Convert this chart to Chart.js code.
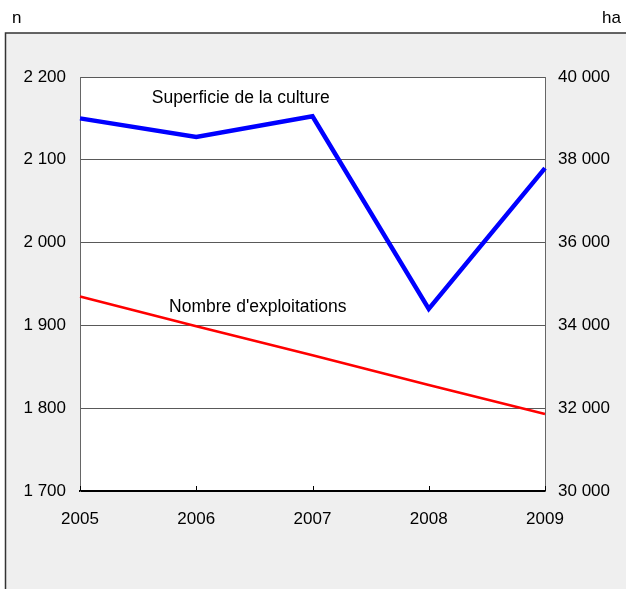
<!DOCTYPE html>
<html>
<head>
<meta charset="utf-8">
<script src="https://cdn.jsdelivr.net/npm/chart.js@4"></script>
<style>
  body { margin: 0; background: #fff; }
  canvas { display: block; }
</style>
</head>
<body>
<canvas id="chart" width="626" height="589"></canvas>
<script>
'use strict';

// data
var years = ['2005', '2006', '2007', '2008', '2009'];
var superficie = [39000, 38550, 39050, 34400, 37800];   // ha, right axis
var exploitations = [1935, 1899, 1864, 1828, 1793];    // n, left axis

var leftTicks = { min: 1700, max: 2200, step: 100 };
var rightTicks = { min: 30000, max: 40000, step: 2000 };

// line labels: [text, x as category index, y in left-axis units]
var lineLabels = [
  ['Superficie de la culture', 0.617, 2175],
  ["Nombre d'exploitations", 0.766, 1922]
];

var FONT = '"Liberation Sans", Arial, sans-serif';

function spaced(v) {
  return String(v).replace(/\B(?=(\d{3})+(?!\d))/g, ' ');
}

var framePlugin = {
  id: 'frame',
  beforeDraw: function (chart) {
    var c = chart.ctx, a = chart.chartArea;
    c.save();
    c.fillStyle = '#fff';
    c.fillRect(0, 0, chart.width, chart.height);
    c.fillStyle = '#efefef';
    c.fillRect(5, 33, chart.width - 5, chart.height - 33);
    c.strokeStyle = '#333';
    c.lineWidth = 1.5;
    c.beginPath();
    c.moveTo(5.5, chart.height);
    c.lineTo(5.5, 33);
    c.lineTo(chart.width, 33);
    c.stroke();
    c.fillStyle = '#fff';
    c.fillRect(a.left, a.top, a.right - a.left, a.bottom - a.top);
    // units
    c.fillStyle = '#000';
    c.font = '17px ' + FONT;
    c.textBaseline = 'middle';
    c.textAlign = 'left';
    c.fillText('n', 12, 18);
    c.textAlign = 'right';
    c.fillText('ha', 621, 18);
    c.restore();
  },
  afterDraw: function (chart) {
    var c = chart.ctx, a = chart.chartArea;
    var xs = chart.scales.x, ys = chart.scales.yLeft;
    c.save();
    // small inward ticks on the bottom axis
    c.strokeStyle = '#000';
    c.lineWidth = 1;
    years.forEach(function (y, i) {
      var px = Math.round(xs.getPixelForValue(i)) + 0.5;
      c.beginPath();
      c.moveTo(px, a.bottom);
      c.lineTo(px, a.bottom - 5);
      c.stroke();
    });
    c.fillStyle = '#000';
    c.font = '17.5px ' + FONT;
    c.textAlign = 'left';
    c.textBaseline = 'middle';
    lineLabels.forEach(function (l) {
      c.fillText(l[0], xs.getPixelForValue(l[1]), ys.getPixelForValue(l[2]));
    });
    c.restore();
  }
};

var ctx = document.getElementById('chart').getContext('2d');
var chart = new Chart(ctx, {
  type: 'line',
  data: {
    labels: years,
    datasets: [{
      label: 'Superficie de la culture',
      data: superficie,
      yAxisID: 'yRight',
      borderColor: '#0000ff',
      borderWidth: 4.5,
      pointRadius: 0,
      tension: 0,
      fill: false
    }, {
      label: "Nombre d'exploitations",
      data: exploitations,
      yAxisID: 'yLeft',
      borderColor: '#ff0000',
      borderWidth: 2.5,
      pointRadius: 0,
      tension: 0,
      fill: false
    }]
  },
  options: {
    responsive: false,
    animation: false,
    layout: { padding: { top: 77, bottom: 58, left: 0, right: 0 } },
    plugins: { legend: { display: false }, tooltip: { enabled: false } },
    scales: {
      x: {
        offset: false,
        grid: { drawOnChartArea: false, drawTicks: false },
        border: { color: '#000', width: 2 },
        ticks: { color: '#000', font: { family: FONT, size: 17 }, padding: 18, maxRotation: 0, autoSkip: false },
        afterFit: function (s) { s.height = 40; }
      },
      yLeft: {
        position: 'left',
        min: leftTicks.min,
        max: leftTicks.max,
        grid: { color: '#595959', lineWidth: 1, drawTicks: false },
        border: { color: '#666', width: 1 },
        ticks: { stepSize: leftTicks.step, color: '#000', font: { family: FONT, size: 17 }, padding: 14, callback: spaced },
        afterFit: function (s) { s.width = 80; }
      },
      yRight: {
        position: 'right',
        min: rightTicks.min,
        max: rightTicks.max,
        grid: { drawOnChartArea: false, drawTicks: false },
        border: { color: '#666', width: 1 },
        ticks: { stepSize: rightTicks.step, color: '#000', font: { family: FONT, size: 17 }, padding: 13, callback: spaced },
        afterFit: function (s) { s.width = 81; }
      }
    }
  },
  plugins: [framePlugin]
});
</script>
</body>
</html>
